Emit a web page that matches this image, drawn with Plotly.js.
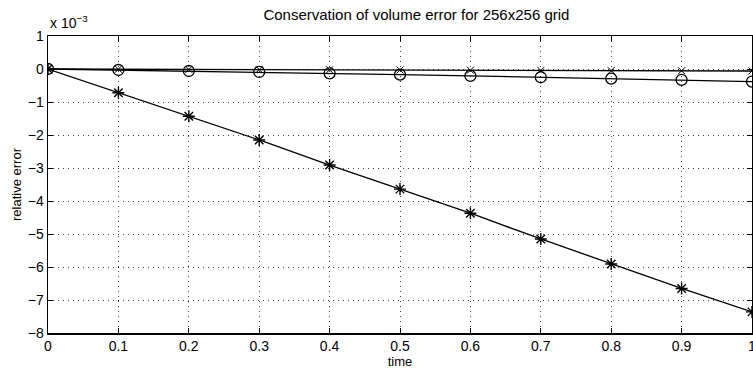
<!DOCTYPE html>
<html>
<head>
<meta charset="utf-8">
<script src="https://cdn.plot.ly/plotly-3.0.1.min.js"></script>
<style>html,body{margin:0;padding:0;background:#fff;}#chart{width:753px;height:370px;}</style>
</head>
<body>
<div id="chart"></div>
<script>
// values in units of 1e-3
const time = [0, 0.1, 0.2, 0.3, 0.4, 0.5, 0.6, 0.7, 0.8, 0.9, 1.0];
const errStar = [0, -0.72, -1.43, -2.15, -2.91, -3.64, -4.37, -5.15, -5.91, -6.65, -7.36];
const errCircle = [0, -0.03, -0.06, -0.09, -0.13, -0.17, -0.21, -0.25, -0.29, -0.33, -0.38];
const errCross = [0, -0.006, -0.012, -0.018, -0.024, -0.03, -0.036, -0.042, -0.048, -0.054, -0.06];
const yTicks = [1, 0, -1, -2, -3, -4, -5, -6, -7, -8];
const xTicks = [0, 0.1, 0.2, 0.3, 0.4, 0.5, 0.6, 0.7, 0.8, 0.9, 1];
const xTickText = ['0', '0.1', '0.2', '0.3', '0.4', '0.5', '0.6', '0.7', '0.8', '0.9', '1'];

const lineStyle = {color: '#000', width: 1.3};
const traces = [
  {x: time, y: errCross, mode: 'lines+markers', line: lineStyle,
   marker: {symbol: 'x-thin-open', size: 7, color: '#000', line: {color: '#000', width: 1}}},
  {x: time, y: errCircle, mode: 'lines+markers', line: lineStyle,
   marker: {symbol: 'circle-open', size: 11, color: '#000', line: {color: '#000', width: 1.3}}},
  {x: time, y: errStar, mode: 'lines+markers', line: lineStyle,
   marker: {symbol: 'asterisk-open', size: 10, color: '#000', line: {color: '#000', width: 1.4}}}
];

const font = {family: 'Liberation Sans, Arial, Helvetica, sans-serif', color: '#000', size: 14};
const axisCommon = {
  showline: true, linecolor: '#000', linewidth: 1.5, mirror: 'ticks',
  ticks: 'inside', ticklen: 5, tickcolor: '#000', tickwidth: 1,
  showgrid: true, gridcolor: '#444', gridwidth: 1, griddash: '1px,4px',
  zeroline: false, tickfont: {size: 14, color: '#000'}, ticklabeloverflow: 'allow'
};
const layout = {
  width: 753, height: 370,
  margin: {l: 48, r: 1, t: 36, b: 37},
  paper_bgcolor: '#fff', plot_bgcolor: '#fff',
  showlegend: false,
  font: font,
  title: {text: 'Conservation of volume error for 256x256 grid', x: 0.553, xanchor: 'center', y: 0.96, yanchor: 'middle', font: {size: 15, color: '#000'}},
  xaxis: Object.assign({}, axisCommon, {range: [0, 1], tickvals: xTicks, ticktext: xTickText,
    title: {text: 'time', standoff: 1, font: {size: 13, color: '#000'}}}),
  yaxis: Object.assign({}, axisCommon, {range: [-8, 1], tickvals: yTicks,
    title: {text: 'relative error', standoff: 3, font: {size: 13, color: '#000'}}}),
  annotations: [{text: 'x 10<sup>−3</sup>', xref: 'paper', yref: 'paper', x: 0, y: 1, xanchor: 'left', yanchor: 'bottom', yshift: 3, showarrow: false, font: {size: 14, color: '#000'}}]
};
Plotly.newPlot('chart', traces, layout, {displayModeBar: false, staticPlot: true});
</script>
</body>
</html>
